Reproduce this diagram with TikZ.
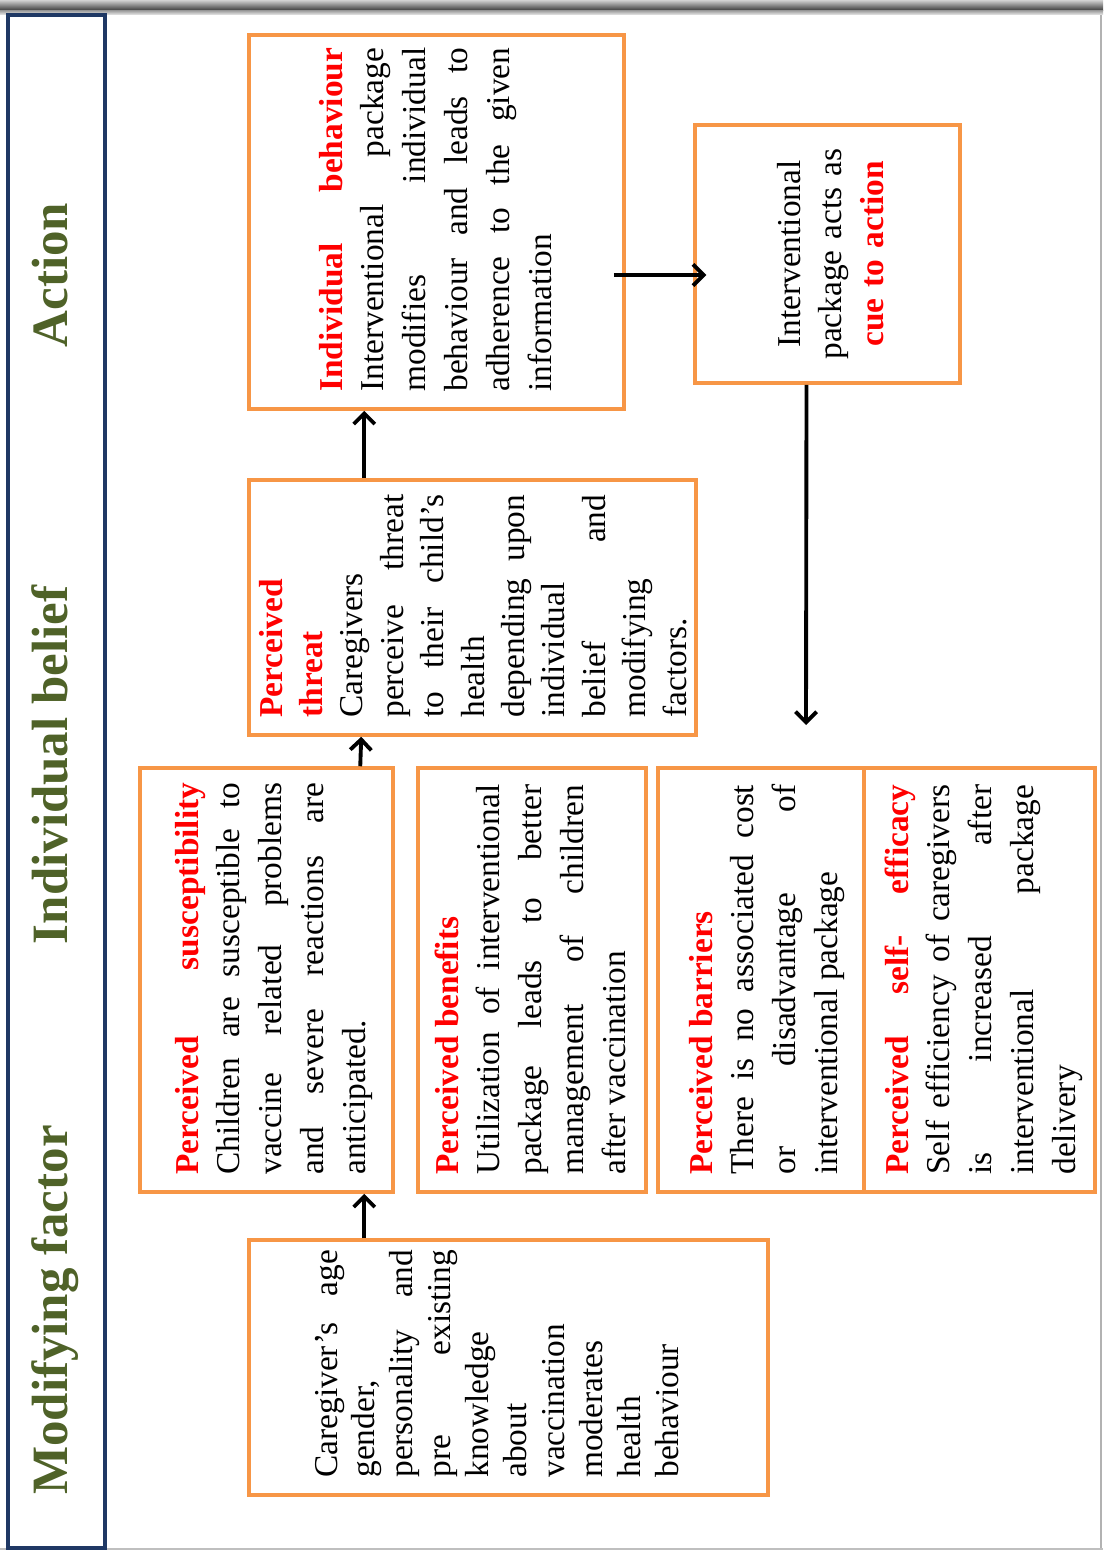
\documentclass[tikz,border=0pt]{standalone}
\usepackage{fontspec}
\setmainfont{Liberation Serif}
\usetikzlibrary{arrows.meta, calc, fit}
\definecolor{boxorange}{RGB}{247,150,70}
\definecolor{bandnavy}{RGB}{31,56,100}
\definecolor{titlegreen}{RGB}{79,98,40}
\newcommand{\hd}[1]{\textcolor{red}{\textbf{#1}}}

\begin{document}
\begin{tikzpicture}[x=0.02cm, y=-0.02cm,
  box/.style={draw=boxorange, line width=2pt, inner sep=0pt},
  txt/.style={rotate=90, anchor=base west, inner sep=0pt, align=justify,
    font=\fontsize{19}{23.8}\selectfont},
  ttl/.style={rotate=90, anchor=base, inner sep=0pt, text=titlegreen,
    font=\fontsize{29}{34}\selectfont\bfseries},
  arr/.style={-{Straight Barb[length=6pt,width=12pt]}, line width=2.2pt}]
  \useasboundingbox (0,0) rectangle (1103,1550);
  % page edges
  \shade[top color=gray!35, bottom color=black!80] (0,0) rectangle (1103,11);
  \shade[top color=gray!70, bottom color=gray!15] (0,11) rectangle (1103,15);
  \draw[gray!60, line width=1.5pt] (1101,15) -- (1101,1550);
  \draw[gray!50, line width=1pt] (0,1549) -- (1103,1549);
  % side band
  \draw[bandnavy, line width=2.8pt] (8,15) rectangle (105,1548);
  \node[ttl] (tact) at (67,275) {Action};
  \node[ttl] (tbel) at (67,765) {Individual belief};
  \node[ttl] (tmod) at (67,1310) {Modifying factor};
  % boxes
  \node[box, fit={(249,35) (624,409)}] (behav) {};
  \node[box, fit={(695,125) (960,383)}] (cue) {};
  \node[box, fit={(249,480) (696,735)}] (threat) {};
  \node[box, fit={(140,768) (393,1192)}] (suscept) {};
  \node[box, fit={(418,768) (646,1192)}] (benefit) {};
  \node[box, fit={(658,768) (864,1192)}] (barrier) {};
  \node[box, fit={(864,768) (1095,1192)}] (efficacy) {};
  \node[box, fit={(249,1240) (768,1495)}] (modif) {};
  % texts
  \node[txt, text width=6.88cm] (behavtxt) at (342,392)
    {\hd{Individual behaviour}\linebreak Interventional package\linebreak
     modifies individual\linebreak behaviour and leads to\linebreak
     adherence to the given\linebreak information};
  \node[txt, text width=5cm, align=center, anchor=base] (cuetxt) at (800,254)
    {Interventional\\ package acts as\\ \textcolor{red}{\textbf{cue to action}}};
  \node[txt, text width=4.46cm, font=\fontsize{19}{23}\selectfont] (threattxt) at (282,718)
    {\hd{Perceived}\newline\hd{threat}\newline Caregivers\newline
     perceive threat\linebreak to their child’s\linebreak health\newline
     depending upon\linebreak individual\newline belief and\linebreak
     modifying\newline factors.};
  \node[txt, text width=7.84cm] (suscepttxt) at (198,1175)
    {\hd{Perceived susceptibility}\linebreak Children are susceptible to\linebreak
     vaccine related problems\linebreak and severe reactions are\linebreak
     anticipated.};
  \node[txt, text width=7.8cm] (benefittxt) at (458,1175)
    {\hd{Perceived benefits}\newline Utilization of interventional\linebreak
     package leads to better\linebreak management of children\linebreak
     after vaccination};
  \node[txt, text width=7.8cm] (barriertxt) at (712,1175)
    {\hd{Perceived barriers}\newline There is no associated cost\linebreak
     or disadvantage of\linebreak interventional package};
  \node[txt, text width=7.8cm] (efficacytxt) at (908,1175)
    {\hd{Perceived self- efficacy}\linebreak Self efficiency of caregivers\linebreak
     is increased after\linebreak interventional package\linebreak delivery};
  \node[txt, text width=4.56cm, font=\fontsize{19}{21.6}\selectfont] (modiftxt) at (337,1478)
    {Caregiver’s age\linebreak gender,\newline personality and\linebreak
     pre existing\linebreak knowledge\newline about\newline vaccination\newline
     moderates\newline health\newline behaviour};
  % arrows
  \coordinate (cueend) at (806,725);
  \draw[arr] ($(modif.north west)+(117,0)$) -- ($(suscept.south west)+(226,0)$);
  \draw[arr] ($(suscept.north west)+(222,0)$) -- ($(threat.south west)+(114,0)$);
  \draw[arr] ($(threat.north west)+(117,0)$) -- ($(behav.south west)+(117,0)$);
  \draw[arr] ($(behav.east)+(-12,53)$) -- ($(cue.west)+(13,21)$);
  \draw[arr] ($(cue.south)+(-21,0)$) -- (cueend);
\end{tikzpicture}
\end{document}
